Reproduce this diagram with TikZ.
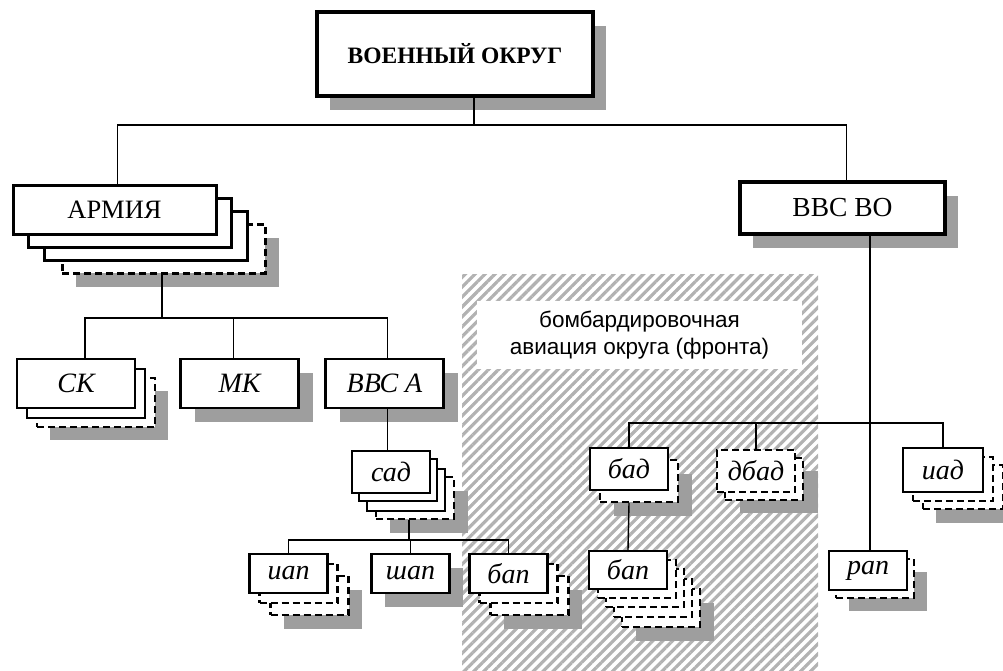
\documentclass[tikz,border=0pt]{standalone}
\usepackage{fontspec}
\setmainfont{Liberation Serif}
\newfontfamily\capfont{Liberation Sans}
\usetikzlibrary{patterns.meta}

\tikzset{
  unit/.style={draw, fill=white, line width=2.4pt, inner sep=0pt,
    font=\fontsize{28}{28}\selectfont\itshape},
  dashunit/.style={unit, dash pattern=on 7pt off 4pt},
  shade/.style={fill=black!38, inner sep=0pt},
  link/.style={line width=1.4pt},
  hatch/.style={pattern={Lines[angle=45,distance=7pt,line width=3.2pt]},
    pattern color=black!30},
  wide/.style={minimum width=203pt, minimum height=49pt},
  mid/.style={minimum width=118pt, minimum height=49pt},
  small/.style={minimum width=78pt, minimum height=42pt},
  tiny/.style={minimum width=78pt, minimum height=39pt},
}

\begin{document}
\begin{tikzpicture}[x=1pt, y=-1pt]
    \useasboundingbox (0,0) rectangle (1003,670);

    % area of the bomber aviation
    \fill[hatch] (462,274) rectangle (818,670);
    \node[fill=white, minimum width=325pt, minimum height=68pt, align=center,
      font=\capfont\fontsize{22.5}{27}\selectfont] (bomb) at (639.5,335)
      {бомбардировочная\\авиация округа (фронта)};

    % top level
    \node[shade, minimum width=276pt, minimum height=84pt] at (468,68) {};
    \node[unit, line width=3.6pt, minimum width=276pt, minimum height=84pt,
      font=\fontsize{23.5}{24}\selectfont\bfseries] (okrug) at (455,54) {ВОЕННЫЙ ОКРУГ};

    % armies
    \node[shade, wide] at (177.5,262.5) {};
    \node[dashunit, wide, line width=3pt] (armia3) at (163.5,248.5) {};
    \node[unit, wide, line width=3pt] (armia2) at (145.5,235.5) {};
    \node[unit, wide, line width=3pt] (armia1) at (129.5,222.5) {};
    \node[unit, wide, line width=3pt, font=\fontsize{26.5}{26}\selectfont] (armia) at (114.5,209.5) {АРМИЯ};

    % air force of the district
    \node[shade, minimum width=205pt, minimum height=52pt] at (855.5,222) {};
    \node[unit, line width=3.4pt, minimum width=205pt, minimum height=52pt,
      font=\fontsize{27.5}{26}\selectfont] (vvsvo) at (842.5,208) {ВВС ВО};

    % corps
    \node[shade, mid] at (109,415.5) {};
    \node[dashunit, mid] (sk2) at (96,402.5) {};
    \node[unit, mid] (sk1) at (86,393.5) {};
    \node[unit, mid] (sk) at (76,383.5) {СК};

    \node[shade, mid] at (253.5,397) {};
    \node[unit, mid] (mk) at (239.5,383.5) {МК};

    \node[shade, mid] at (398.5,397) {};
    \node[unit, mid] (vvsa) at (384.5,383.5) {ВВС А};

    % divisions
    \node[shade, small] at (429,512) {};
    \node[dashunit, small] (sad3) at (415,498) {};
    \node[unit, small] (sad2) at (406,490) {};
    \node[unit, small] (sad1) at (398,480) {};
    \node[unit, small] (sad) at (391,472) {сад};

    \node[shade, small] at (652.5,494.5) {};
    \node[dashunit, small] (bad1) at (639,481) {};
    \node[unit, small] (bad) at (629,469) {бад};

    \node[shade, small] at (778.5,492) {};
    \node[dashunit, small] (dbad1) at (764,479) {};
    \node[dashunit, small] (dbad) at (756,471) {дбад};

    \node[shade, minimum width=80pt, minimum height=44pt] at (976,501) {};
    \foreach \dx/\dy [count=\i] in {20/17,10/9}
      \node[dashunit, minimum width=80pt, minimum height=44pt] (iad\i) at (943+\dx,470+\dy) {};
    \node[unit, minimum width=80pt, minimum height=44pt] (iad) at (943,470) {иад};

    % regiments
    \foreach \cx/\name/\txt in {288.5/iap/иап, 508.5/bapA/бап} {
      \node[shade, tiny] at (\cx+34,609.5) {};
      \node[dashunit, tiny] (\name2) at (\cx+21,595.5) {};
      \node[dashunit, tiny] (\name1) at (\cx+10,583.5) {};
      \node[unit, tiny] (\name) at (\cx,573.5) {\txt};
    }

    \node[shade, tiny] at (424,587) {};
    \node[unit, tiny] (shap) at (410.5,573.5) {шап};

    \node[shade, minimum width=78pt, minimum height=38pt] at (675,622) {};
    \foreach \dx/\dy [count=\i] in {33/38,25/28,17/18,9/9}
      \node[dashunit, minimum width=78pt, minimum height=38pt] (bapB\i) at (628+\dx,570+\dy) {};
    \node[unit, minimum width=78pt, minimum height=38pt] (bapB) at (628,570) {бап};

    \node[shade, tiny] at (888,591.5) {};
    \node[dashunit, tiny] (rap1) at (875,578.5) {};
    \node[unit, tiny] (rap) at (868,570.5) {рап};

    % connections
    \coordinate (j1) at (474,125);
    \draw[link] (okrug.south -| j1) -- (j1);
    \draw[link] ([xshift=3pt]armia.north) |- (j1) -| ([xshift=4pt]vvsvo.north);

    \coordinate (j2) at (162,318);
    \coordinate (skin) at ([xshift=9pt]sk.north);
    \coordinate (mkin) at ([xshift=-6pt]mk.north);
    \coordinate (vvsain) at ([xshift=3pt]vvsa.north);
    \draw[link] (armia3.south -| j2) -- (j2);
    \draw[link] (skin) |- (j2) -| (vvsain);
    \draw[link] (mkin) -- (mkin |- j2);

    \draw[link] (vvsain |- vvsa.south) -- (vvsain |- sad.north);

    \coordinate (j3) at (409,540);
    \draw[link] (sad3.south -| j3) -- (j3);
    \draw[link] (iap.north) |- (j3) -| (bapA.north);
    \draw[link] (shap.north) -- (shap.north |- j3);

    \coordinate (j4) at (870,423);
    \draw[link] (vvsvo.south -| j4) -- (j4 |- rap.north);
    \draw[link] (bad.north) |- (j4) -| (iad.north);
    \draw[link] (dbad.north) -- (dbad.north |- j4);
    \draw[link] (bad1.south -| bad.south) -- (bapB.north);
\end{tikzpicture}
\end{document}
